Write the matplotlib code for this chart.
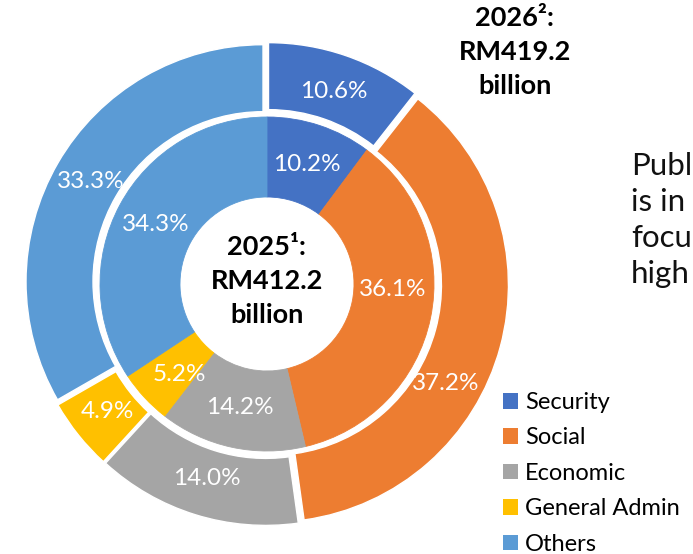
import numpy as np
import matplotlib.pyplot as plt
from matplotlib.patches import Patch

plt.rcParams["font.family"] = ["Lato", "DejaVu Sans"]

# -----------------------------
# Data
# -----------------------------
categories = ["Security", "Social", "Economic", "General Admin", "Others"]
colors = ["#4472C4", "#ED7D31", "#A5A5A5", "#FFC000", "#5B9BD5"]
share_2025 = [10.2, 36.1, 14.2, 5.2, 34.3]   # inner ring
share_2026 = [10.6, 37.2, 14.0, 4.9, 33.3]   # outer ring
total_2025 = "RM412.2"
total_2026 = "RM419.2"
# side note, only the part visible inside the slide crop
side_note = ["Publ", "is in", "focu", "high"]

# label angle nudges (degrees, clockwise) where the original labels sit off-centre
nudge_inner = [0, -9, 0, -3, 0]
nudge_outer = [0, 14, 0, 0, 0]

W, H = 693, 554
cx, cy = 267, H - 284

fig = plt.figure(figsize=(W / 100, H / 100), dpi=100)
ax = fig.add_axes([0, 0, 1, 1])

# outer ring (2026), slightly exploded
ax.pie(share_2026, radius=237, center=(cx, cy), colors=colors, startangle=90,
       counterclock=False, explode=[4.6] * len(share_2026),
       wedgeprops=dict(width=67, edgecolor="white", linewidth=1.0))

# inner ring (2025)
wedges, _ = ax.pie(share_2025, radius=167, center=(cx, cy), colors=colors, startangle=90,
                   counterclock=False, wedgeprops=dict(width=80, linewidth=0))
for w, c in zip(wedges, colors):
    w.set_edgecolor(c)
    w.set_linewidth(0.6)


def put_labels(values, r_mid, nudges):
    cum = np.cumsum([0] + list(values))
    for i, v in enumerate(values):
        ang = (cum[i] + v / 2) / sum(values) * 360 + nudges[i]
        t = np.deg2rad(ang)
        x = cx + r_mid * np.sin(t)
        y = cy + r_mid * np.cos(t)
        ax.text(x, y, f"{v:.1f}%", color="white", fontsize=17.5,
                ha="center", va="center")


put_labels(share_2026, 204, nudge_outer)
put_labels(share_2025, 126, nudge_inner)

# centre and top-right totals
ax.text(cx, cy + 3, f"2025\u00b9:\n{total_2025}\nbillion", ha="center", va="center",
        fontsize=19.5, fontweight="bold", linespacing=1.52)
ax.text(515, H - 52, f"2026\u00b2:\n{total_2026}\nbillion", ha="center", va="center",
        fontsize=19.5, fontweight="bold", linespacing=1.52)

# side note (runs off the slide crop in the source)
for i, line in enumerate(side_note):
    ax.text(631, H - 175 - i * 36, line, fontsize=22.5, ha="left", va="baseline",
            color="#111111")

handles = [Patch(facecolor=c, edgecolor="none") for c in colors]
ax.legend(handles, categories, loc="upper left", bbox_to_anchor=(503 / W, 1 - 392 / H),
          frameon=False, fontsize=17, handlelength=0.64, handleheight=0.64,
          handletextpad=0.3, labelspacing=0.61, borderaxespad=0, borderpad=0)

ax.set_xlim(0, W)
ax.set_ylim(0, H)
ax.set_aspect("equal")
ax.axis("off")

fig.savefig("out.png", dpi=100)
